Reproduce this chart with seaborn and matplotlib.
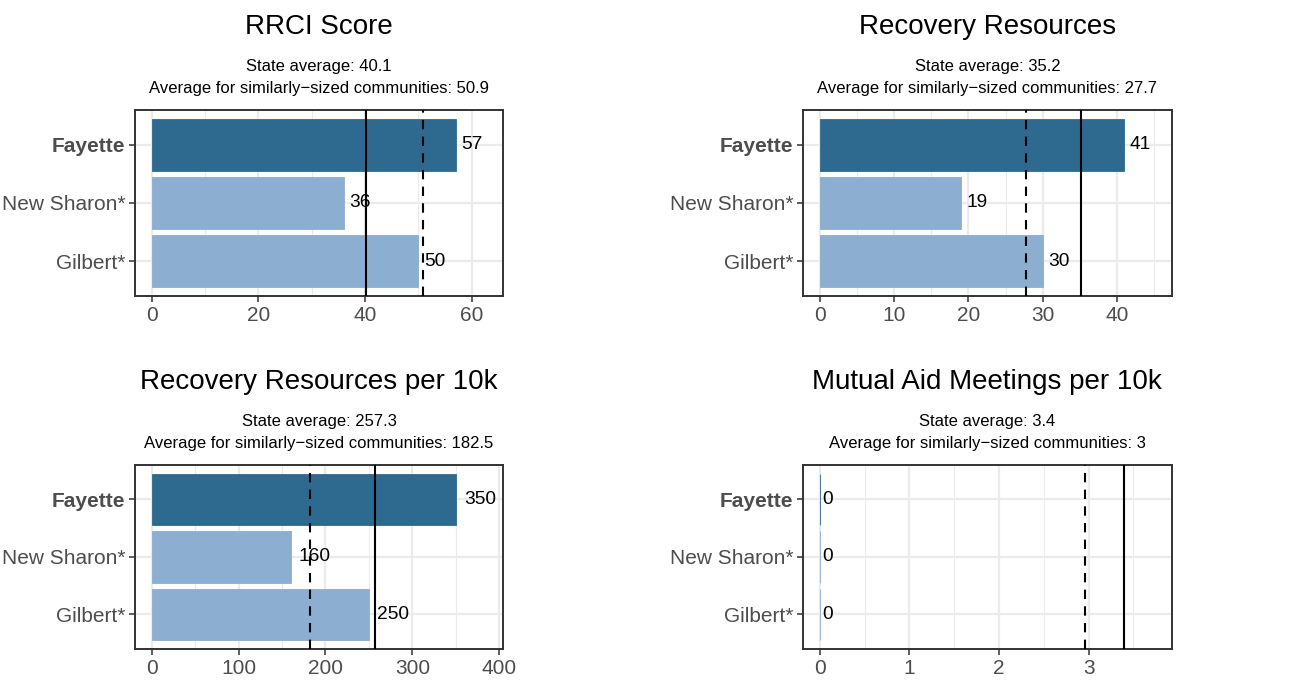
import numpy as np
import pandas as pd
import matplotlib
matplotlib.use("Agg")
import matplotlib.pyplot as plt
import seaborn as sns
from matplotlib.ticker import MultipleLocator

# data
communities = ["Fayette", "New Sharon*", "Gilbert*"]
titles = ["RRCI Score", "Recovery Resources",
          "Recovery Resources per 10k", "Mutual Aid Meetings per 10k"]
rrci_score = [57, 36, 50]
recovery_resources = [41, 19, 30]
resources_per_10k = [350, 160, 250]
mutual_aid_per_10k = [0, 0, 0]
state_avg = [40.1, 35.2, 257.3, 3.4]
peer_avg = [50.9, 27.7, 182.5, 2.96]
major_step = [20, 10, 100, 1]

DARK = "#2E6A8F"
LIGHT = "#8CAED1"
GRID = "#EBEBEB"
TXT = "#4D4D4D"

sns.set_style("white")
plt.rcParams["font.family"] = ["Liberation Sans", "DejaVu Sans"]
plt.rcParams["text.color"] = "black"

fig = plt.figure(figsize=(12.99, 6.85), dpi=100)
boxes = [(0.1039, 0.5679, 0.2833, 0.2715), (0.6182, 0.5679, 0.2838, 0.2715),
         (0.1039, 0.0526, 0.2833, 0.2686), (0.6182, 0.0526, 0.2838, 0.2686)]
series = [rrci_score, recovery_resources, resources_per_10k, mutual_aid_per_10k]


def fmt(v):
    return f"{round(v, 1):g}"


for i, vals in enumerate(series):
    ax = fig.add_axes(boxes[i])
    df = pd.DataFrame({"community": communities, "value": vals})
    sns.barplot(data=df, x="value", y="community", hue="community", orient="h",
                palette=[DARK, LIGHT, LIGHT], width=0.9, legend=False,
                saturation=1, ax=ax, zorder=2)
    for p in ax.patches:
        p.set_edgecolor(p.get_facecolor())
        p.set_linewidth(0.6)

    xmax = 1.1 * max(list(vals) + [state_avg[i], peer_avg[i]])
    ax.set_xlim(-0.05 * xmax, 1.05 * xmax)
    ax.set_ylim(2.6, -0.6)
    ax.xaxis.set_major_locator(MultipleLocator(major_step[i]))
    ax.xaxis.set_minor_locator(MultipleLocator(major_step[i] / 2))
    ax.grid(True, which="major", color=GRID, lw=1.6, zorder=0)
    ax.grid(True, which="minor", axis="x", color=GRID, lw=0.8, zorder=0)
    ax.set_axisbelow(True)

    ax.axvline(state_avg[i], color="black", lw=1.5, zorder=3)
    ax.axvline(peer_avg[i], color="black", lw=1.5, ls=(0, (4.5, 3.5)), zorder=3)

    for j, v in enumerate(vals):
        lab = fmt(v)
        ax.annotate(lab, xy=(v, j), xytext=(1.9 * len(lab), 0), textcoords="offset points",
                    ha="left", va="center", fontsize=13.8, color="black", zorder=4)

    ax.set_xlabel("")
    ax.set_ylabel("")
    ax.tick_params(axis="both", which="major", length=4, width=1.1, color="#333333",
                   labelsize=15, labelcolor=TXT, pad=3, bottom=True, left=True)
    ax.tick_params(axis="x", which="minor", length=0)
    ax.get_yticklabels()[0].set_fontweight("bold")
    for sp in ax.spines.values():
        sp.set_visible(True)
        sp.set_color("#333333")
        sp.set_linewidth(1.4)

    ax.annotate(titles[i], xy=(0.5, 1), xycoords="axes fraction", xytext=(0, 76 * 0.72),
                textcoords="offset points", ha="center", va="baseline", fontsize=20,
                color="black")
    ax.annotate(f"State average: {fmt(state_avg[i])}", xy=(0.5, 1), xycoords="axes fraction",
                xytext=(0, 39 * 0.72), textcoords="offset points", ha="center", va="baseline",
                fontsize=12, color="black")
    ax.annotate(f"Average for similarly\u2212sized communities: {fmt(peer_avg[i])}", xy=(0.5, 1),
                xycoords="axes fraction", xytext=(0, 17 * 0.72), textcoords="offset points",
                ha="center", va="baseline", fontsize=12, color="black")

fig.savefig("out.png", dpi=100)
